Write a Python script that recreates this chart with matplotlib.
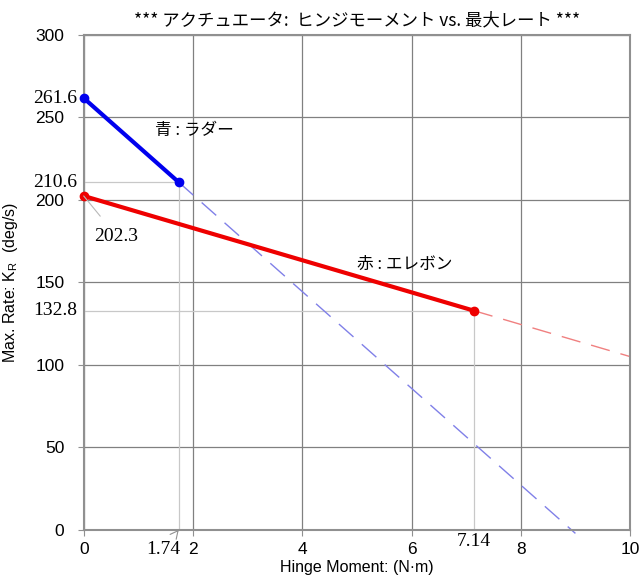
import numpy as np
import matplotlib
matplotlib.use("Agg")
import matplotlib.pyplot as plt

plt.rcParams['font.family'] = ['Liberation Sans', 'Noto Sans CJK JP', 'DejaVu Sans']

# rudder (blue) and elevon (red) operating points
rudder_x = [0.0, 1.74]
rudder_y = [261.6, 210.6]
elevon_x = [0.0, 7.14]
elevon_y = [202.3, 132.8]

x_ticks = [0, 2, 4, 6, 8, 10]
y_ticks = [0, 50, 100, 150, 200, 250, 300]

jp = ['Noto Sans CJK JP', 'DejaVu Sans']
serif = 'Liberation Serif'

fig = plt.figure(figsize=(6.39, 5.79), dpi=100)
ax = fig.add_axes([0.131, 0.085, 0.855, 0.855])
ax.set_xlim(0, 10)
ax.set_ylim(0, 300)
ax.set_xticks(x_ticks)
ax.set_yticks(y_ticks)
ax.grid(True, color='#808080', lw=0.9)
ax.set_axisbelow(True)
for s in ax.spines.values():
    s.set_color('#909090')
    s.set_linewidth(1.5)
ax.tick_params(colors='#909090', labelcolor='black', labelsize=12.5, length=4)
ax.tick_params(axis='y', pad=10)
ax.tick_params(axis='x', pad=5)

# thin guide lines from each end point to the axes
grey = '#c8c8c8'
ax.plot([rudder_x[1], rudder_x[1]], [0, rudder_y[1]], color=grey, lw=0.9, zorder=1)
ax.plot([0, rudder_x[1]], [rudder_y[1], rudder_y[1]], color=grey, lw=0.9, zorder=1)
ax.plot([elevon_x[1], elevon_x[1]], [0, elevon_y[1]], color=grey, lw=0.9, zorder=1)
ax.plot([0, elevon_x[1]], [elevon_y[1], elevon_y[1]], color=grey, lw=0.9, zorder=1)

# dashed extrapolation of each line
def extend(xs, ys, x_end):
    k = (ys[1] - ys[0]) / (xs[1] - xs[0])
    return [xs[1], x_end], [ys[1], ys[1] + k * (x_end - xs[1])]

bx, by = extend(rudder_x, rudder_y, 9.0)
ax.plot(bx, by, color='#8080e8', lw=1.0, dashes=(14, 8), clip_on=False, zorder=2)
rx, ry = extend(elevon_x, elevon_y, 10.0)
ax.plot(rx, ry, color='#f08080', lw=1.0, dashes=(14, 8), zorder=2)

ax.plot(rudder_x, rudder_y, color='#0000ee', lw=3, marker='o', ms=6, zorder=3, clip_on=False)
ax.plot(elevon_x, elevon_y, color='#ee0000', lw=3, marker='o', ms=6, zorder=3, clip_on=False)

ax.text(1.3, 242, '青 : ラダー', family=jp, fontsize=12, va='center')
ax.text(5.0, 161, '赤 : エレボン', family=jp, fontsize=12, va='center')

# value labels
ax.text(-0.12, rudder_y[0], '261.6', family=serif, fontsize=14, ha='right', va='center', clip_on=False)
ax.text(-0.12, rudder_y[1], '210.6', family=serif, fontsize=14, ha='right', va='center', clip_on=False)
ax.text(-0.12, elevon_y[1], '132.8', family=serif, fontsize=14, ha='right', va='center', clip_on=False)
ax.annotate('202.3', xy=(0, elevon_y[0]), xytext=(0.6, 178), family=serif, fontsize=14,
            ha='center', va='center',
            arrowprops=dict(arrowstyle='-', color='#b8b8b8', lw=0.8, shrinkA=8, shrinkB=0))
ax.annotate('1.74', xy=(rudder_x[1], 0), xytext=(1.45, -12), family=serif, fontsize=14,
            ha='center', va='center', annotation_clip=False,
            arrowprops=dict(arrowstyle='->', color='#909090', lw=0.8, shrinkA=7, shrinkB=0))
ax.text(elevon_x[1], -7, '7.14', family=serif, fontsize=14, ha='center', va='center', clip_on=False)

ax.set_xlabel('Hinge Moment: (N·m)', fontsize=11.5)
ax.xaxis.set_label_coords(0.5, -0.062)
ax.set_ylabel(r'Max. Rate: K$_\mathregular{R}$  (deg/s)', fontsize=11.5)
ax.yaxis.set_label_coords(-0.117, 0.5)
ax.set_title('*** アクチュエータ:  ヒンジモーメント vs. 最大レート ***', family=jp, fontsize=12.5, pad=7)

fig.savefig('out.png', dpi=100)
